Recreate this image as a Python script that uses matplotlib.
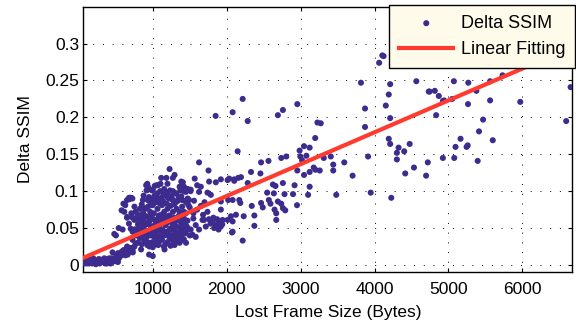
import matplotlib.pyplot as plt
from matplotlib.ticker import FormatStrFormatter
import numpy as np

plt.rcParams['font.family'] = ['Liberation Sans', 'DejaVu Sans']

# lost frame size (bytes) / delta SSIM, split by frame size band
low_size = [72, 107, 131, 156, 181, 206, 230, 255, 280, 305,
            355, 380, 404, 429, 454, 504, 529, 90, 120, 140,
            170, 195, 220, 245, 270, 290, 320, 345, 370, 395,
            420, 445, 470, 500, 520, 540, 560, 580, 610, 640,
            660, 700, 730, 281, 330, 380, 429, 479, 411, 343,
            275, 207, 139, 94, 456, 570, 502, 706, 660]
low_ssim = [0.002, 0.002, 0.004, 0.007, 0.002, 0.004, 0.001, 0.004, 0.002, 0.007,
            0.002, 0.002, 0.004, 0.002, 0.004, 0.005, 0.004, 0.006, 0.008, 0.003,
            0.006, 0.009, 0.006, 0.003, 0.008, 0.004, 0.006, 0.009, 0.005, 0.008,
            0.004, 0.009, 0.006, 0.010, 0.012, 0.009, 0.015, 0.018, 0.016, 0.022,
            0.015, 0.023, 0.017, 0.005, 0.004, 0.005, 0.007, 0.008, 0.009, 0.005,
            0.003, 0.004, 0.002, 0.003, 0.017, 0.013, 0.011, 0.021, 0.014]

core_size = [479, 539, 702, 727, 678, 752, 787, 801, 826, 876,
             900, 950, 975, 727, 767, 826, 851, 900, 925, 950,
             975, 653, 678, 578, 603, 529, 554, 628, 727, 752,
             678, 693, 709, 724, 603, 628, 578, 653, 710, 727,
             752, 767, 826, 866, 851, 900, 935, 965, 926, 935,
             915, 876, 950, 990, 820, 850, 870, 890, 920, 960,
             780, 760, 800, 840, 830, 870, 910, 960, 880, 910,
             940, 950, 980,
             910, 932, 683, 652, 615, 652, 592, 502, 796, 819,
             887, 878, 932, 978, 978, 751, 796, 864, 910, 978,
             910, 955, 796, 842]
core_ssim = [0.042, 0.050, 0.049, 0.045, 0.056, 0.061, 0.063, 0.049, 0.045, 0.054,
             0.047, 0.058, 0.052, 0.034, 0.029, 0.036, 0.028, 0.034, 0.027, 0.014,
             0.040, 0.025, 0.018, 0.014, 0.020, 0.016, 0.011, 0.013, 0.020, 0.025,
             0.091, 0.091, 0.091, 0.090, 0.083, 0.081, 0.074, 0.065, 0.070, 0.064,
             0.079, 0.072, 0.076, 0.088, 0.082, 0.076, 0.079, 0.072, 0.110, 0.106,
             0.101, 0.094, 0.092, 0.101, 0.040, 0.043, 0.038, 0.032, 0.038, 0.030,
             0.040, 0.048, 0.055, 0.060, 0.067, 0.070, 0.066, 0.086, 0.060, 0.055,
             0.044, 0.064, 0.068,
             0.108, 0.102, 0.089, 0.088, 0.072, 0.064, 0.048, 0.040, 0.068, 0.056,
             0.077, 0.066, 0.088, 0.081, 0.066, 0.048, 0.043, 0.050, 0.041, 0.045,
             0.032, 0.025, 0.030, 0.021]

mid_size = [1227, 1295, 1272, 1386, 1363, 1114, 1046, 1000, 1046, 1091,
            1159, 1204, 1272, 1318, 1386, 1046, 1114, 1182, 1227, 1295,
            1363, 1408, 1023, 1091, 1136, 1204, 1250, 1318, 1386, 1159,
            1000, 1295, 1363, 1408,
            1184, 1199, 1104, 1069, 1154, 1233, 1273, 1372, 1422, 1472,
            1511, 1025, 1025, 1074, 1124, 1174, 1223, 1273, 1313, 1000,
            1015, 1064, 1084, 1124, 1154, 1199, 1223, 1273, 1323, 1362,
            1397, 1422, 1025, 1049, 1099, 1124, 1174, 1184, 1233, 1248,
            1298, 1323, 1382, 1422, 1000, 1049, 1074, 1124, 1149, 1199,
            1223, 1298, 1348, 1050, 1080, 1110, 1140, 1170, 1200, 1230,
            1260, 1290, 1320, 1350, 1380, 1410, 1440, 1470, 1010, 1040,
            1090, 1140, 1190, 1240, 1290, 1340, 990, 1030, 1060, 1095,
            1130, 1160, 1210, 1250, 1280, 1310, 1340, 1370, 1400, 1440,
            1460, 1000, 1040, 1080, 1110, 1170, 1240, 1280, 1000, 1060,
            1100, 1150, 1200, 1250, 1300, 1350, 1400, 1450, 1500, 1407,
            1422, 1447, 1472, 1482, 1447, 1422, 1397, 1482, 1372, 1323,
            1273, 1420, 1450, 1500]
mid_ssim = [0.130, 0.122, 0.118, 0.113, 0.106, 0.118, 0.108, 0.102, 0.091, 0.084,
            0.097, 0.091, 0.088, 0.097, 0.093, 0.059, 0.068, 0.061, 0.066, 0.059,
            0.068, 0.061, 0.038, 0.048, 0.040, 0.045, 0.036, 0.041, 0.036, 0.021,
            0.012, 0.027, 0.030, 0.054,
            0.118, 0.110, 0.110, 0.108, 0.103, 0.101, 0.100, 0.101, 0.100, 0.103,
            0.100, 0.107, 0.094, 0.090, 0.092, 0.094, 0.090, 0.088, 0.085, 0.081,
            0.070, 0.076, 0.067, 0.081, 0.072, 0.076, 0.067, 0.072, 0.076, 0.072,
            0.079, 0.072, 0.054, 0.045, 0.049, 0.043, 0.054, 0.045, 0.049, 0.040,
            0.045, 0.052, 0.040, 0.046, 0.031, 0.036, 0.027, 0.034, 0.025, 0.031,
            0.038, 0.032, 0.034, 0.060, 0.065, 0.058, 0.062, 0.066, 0.058, 0.062,
            0.057, 0.064, 0.060, 0.066, 0.058, 0.062, 0.055, 0.060, 0.062, 0.085,
            0.084, 0.086, 0.083, 0.080, 0.082, 0.087, 0.040, 0.047, 0.038, 0.035,
            0.048, 0.040, 0.044, 0.050, 0.047, 0.052, 0.044, 0.050, 0.047, 0.044,
            0.052, 0.024, 0.028, 0.030, 0.040, 0.028, 0.026, 0.036, 0.088, 0.097,
            0.100, 0.096, 0.098, 0.093, 0.097, 0.092, 0.088, 0.085, 0.078, 0.112,
            0.106, 0.099, 0.090, 0.081, 0.070, 0.063, 0.054, 0.049, 0.045, 0.039,
            0.033, 0.035, 0.030, 0.040]

upper_size = [2284, 2148, 1626, 1754, 2465, 2565, 1567, 1853, 1921, 2034,
              2102, 2156, 2193, 2329, 2456, 2284, 2625, 2660, 1422, 1513,
              1626, 1740, 1785, 2547, 2638, 1490, 1558, 1921, 2020, 2080,
              2170, 2184, 2339, 2465, 2570, 2592, 2692, 2737, 1740, 1921,
              2125, 2230, 2374, 2488, 2647, 2670, 2670, 2374, 2057, 2012,
              2080, 1808, 1853, 1898, 1944, 1672, 1717, 1581, 1626, 1536,
              1581, 2071, 2216, 1400, 1422, 1445, 1400, 1513,
              1780, 1830, 1870, 1920, 1760, 1890, 1940, 1820, 1850, 2080,
              2216, 2692, 1600, 1650, 1600, 1650, 1700, 1550, 1680, 1762,
              2012, 2102, 1549, 1694, 1876, 2080]
upper_ssim = [0.195, 0.154, 0.139, 0.128, 0.139, 0.141, 0.117, 0.112, 0.116, 0.117,
              0.114, 0.118, 0.119, 0.126, 0.124, 0.111, 0.109, 0.107, 0.103, 0.102,
              0.099, 0.098, 0.095, 0.098, 0.097, 0.088, 0.087, 0.086, 0.088, 0.088,
              0.088, 0.084, 0.080, 0.084, 0.088, 0.083, 0.086, 0.083, 0.072, 0.075,
              0.068, 0.066, 0.067, 0.078, 0.075, 0.070, 0.061, 0.053, 0.066, 0.061,
              0.059, 0.059, 0.054, 0.057, 0.061, 0.061, 0.052, 0.054, 0.048, 0.041,
              0.038, 0.044, 0.033, 0.061, 0.052, 0.043, 0.034, 0.048,
              0.056, 0.050, 0.062, 0.052, 0.062, 0.048, 0.055, 0.064, 0.202, 0.207,
              0.225, 0.203, 0.108, 0.106, 0.075, 0.080, 0.085, 0.070, 0.068, 0.113,
              0.115, 0.116, 0.063, 0.061, 0.052, 0.045]

large_size = [4062, 3816, 4211, 4565, 4192, 4152, 3871, 4211, 3871, 4192,
              4211, 4325, 4475, 4302, 4401, 4302, 4533, 4415, 3912, 3703,
              3590, 3441, 3441, 3408, 3313, 3948, 4226, 3482, 3197, 3227,
              3272, 2955, 2760, 2986, 3046, 3122, 2996, 3078, 3019, 2806,
              2738, 3177, 3200, 3259, 3122, 2955, 3046, 2918, 3122, 3101,
              2782, 2897, 2951, 2760, 2760, 2792, 4105, 4122]
large_ssim = [0.274, 0.247, 0.245, 0.249, 0.231, 0.216, 0.212, 0.199, 0.187, 0.171,
              0.164, 0.159, 0.164, 0.152, 0.154, 0.143, 0.132, 0.124, 0.147, 0.121,
              0.139, 0.136, 0.128, 0.147, 0.145, 0.098, 0.091, 0.095, 0.172, 0.193,
              0.192, 0.218, 0.210, 0.155, 0.161, 0.159, 0.147, 0.148, 0.142, 0.147,
              0.145, 0.132, 0.129, 0.128, 0.126, 0.128, 0.122, 0.108, 0.106, 0.095,
              0.096, 0.096, 0.081, 0.111, 0.077, 0.074, 0.284, 0.283]

huge_size = [4924, 5073, 5268, 5563, 5731, 6652, 4733, 4745, 4815, 4869,
             4924, 4940, 5050, 5377, 5264, 5563, 5971, 4833, 5468, 6592,
             5413, 5163, 5599, 5095, 5245, 5260, 4924, 5078, 5395, 4720,
             4697]
huge_ssim = [0.273, 0.249, 0.247, 0.249, 0.257, 0.241, 0.235, 0.235, 0.236, 0.229,
             0.222, 0.223, 0.225, 0.236, 0.218, 0.223, 0.221, 0.203, 0.197, 0.195,
             0.181, 0.171, 0.169, 0.160, 0.160, 0.162, 0.145, 0.145, 0.141, 0.139,
             0.121]

# least squares line through the points
fit_slope = 4.32e-5
fit_intercept = 0.0070

size = np.array(low_size + core_size + mid_size + upper_size + large_size + huge_size)
ssim = np.array(low_ssim + core_ssim + mid_ssim + upper_ssim + large_ssim + huge_ssim)

fig = plt.figure(figsize=(5.76, 3.29), dpi=100)
ax = fig.add_axes([0.1446, 0.1723, 0.849, 0.8073])

ax.scatter(size, ssim, s=19, color='#3d2b8e', edgecolors='none', label='Delta SSIM', zorder=3)
fit_x = np.array([size.min(), size.max()])
ax.plot(fit_x, fit_intercept + fit_slope * fit_x, color='#ff3b30', linewidth=3,
        label='Linear Fitting', zorder=4)

ax.set_xlim(60, 6675)
ax.set_ylim(-0.01, 0.35)
ax.set_xticks([1000, 2000, 3000, 4000, 5000, 6000])
ax.set_yticks([0, 0.05, 0.1, 0.15, 0.2, 0.25, 0.3])
ax.yaxis.set_major_formatter(FormatStrFormatter('%g'))

ax.set_axisbelow(True)
ax.grid(True, color='black', linestyle=(0, (1, 9)), linewidth=0.7)
ax.tick_params(direction='in', top=True, right=True, length=3, width=0.8,
               labelsize=12.5, colors='black')
ax.tick_params(axis='x', pad=7)
ax.tick_params(axis='y', pad=3)
for sp in ax.spines.values():
    sp.set_linewidth(1.0)

ax.set_xlabel('Lost Frame Size (Bytes)', fontsize=12.5, labelpad=6)
ax.set_ylabel('Delta SSIM', fontsize=12.5, labelpad=9)

leg = ax.legend(loc='upper right', bbox_to_anchor=(575 / 576, 1 - 5 / 329),
                bbox_transform=fig.transFigure, fancybox=False, edgecolor='black',
                facecolor='#fffbea', framealpha=1, fontsize=13, handlelength=3.0,
                handletextpad=0.4, borderpad=0.55, labelspacing=0.5, borderaxespad=0)
leg.get_frame().set_linewidth(1.0)

fig.savefig('out.png', dpi=100)
